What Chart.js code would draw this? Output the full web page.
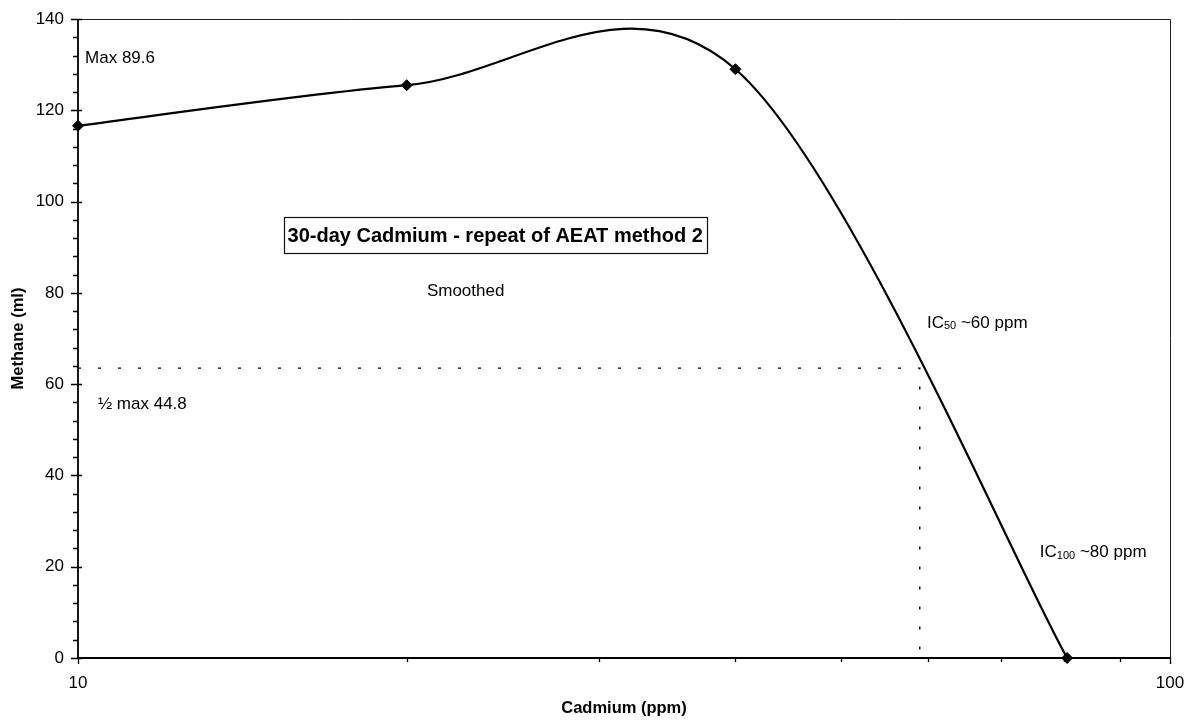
<!DOCTYPE html>
<html>
<head>
<meta charset="utf-8">
<script src="https://cdn.jsdelivr.net/npm/chart.js@4/dist/chart.umd.min.js"></script>
<style>
  html, body { margin: 0; padding: 0; background: #fff; }
  canvas { display: block; }
</style>
</head>
<body>
<canvas id="myChart" width="1194" height="720"></canvas>
<script>
// data
let cadmium = [10, 20, 40, 80.5];
let methane = [116.6, 125.5, 129.0, 0];

// half-max guide (dotted)
let guideX = [10, 59, 59];
let guideY = [63.5, 63.5, 0];

// axis ticks
let xTicks = [10, 100];
let xMinorTicks = [20, 30, 40, 50, 60, 70, 80, 90];
let yTicks = [0, 20, 40, 60, 80, 100, 120, 140];
let yMinorStep = 4;

let FONT = "'Liberation Sans', Arial, Helvetica, sans-serif";

// text notes placed in data space (x = ppm, y = ml)
let notes = [
    { text: [['Max 89.6', 17]], x: 10.15, y: 131.3 },
    { text: [['Smoothed', 17]], x: 20.87, y: 80.4 },
    { text: [['IC', 17], ['50', 11, 3], [' ~60 ppm', 17]], x: 59.9, y: 73.3 },
    { text: [['\u00bd max 44.8', 17]], x: 10.43, y: 55.5 },
    { text: [['IC', 17], ['100', 11, 3], [' ~80 ppm', 17]], x: 76.0, y: 23.1 },
];
let boxTitle = { text: '30-day Cadmium - repeat of AEAT method 2', x: 24.1, y: 92.6 };


// Excel style smoothing: Catmull-Rom with 1/6 tangents (in pixel space)
let excelSmooth = {
    id: 'excelSmooth',
    beforeDatasetDraw(chart, args) {
        if (args.index !== 0) return;
        let meta = args.meta;
        meta.dataset.updateControlPoints(chart.chartArea, 'x');
        let pts = meta.data;
        for (let i = 0; i < pts.length; i++) {
            let prev = pts[Math.max(i - 1, 0)];
            let next = pts[Math.min(i + 1, pts.length - 1)];
            let cur = pts[i];
            let dx = (next.x - prev.x) / 6;
            let dy = (next.y - prev.y) / 6;
            cur.cp1x = cur.x - dx; cur.cp1y = cur.y - dy;
            cur.cp2x = cur.x + dx; cur.cp2y = cur.y + dy;
        }
    }
};

// frame, tick marks and text notes
let decorations = {
    id: 'decorations',
    beforeDatasetsDraw(chart) {
        let ctx = chart.ctx;
        let a = chart.chartArea;
        let xs = chart.scales.x, ys = chart.scales.y;
        ctx.save();
        // frame
        ctx.strokeStyle = '#222';
        ctx.lineWidth = 1;
        ctx.beginPath();
        ctx.moveTo(a.left, a.top + 0.5); ctx.lineTo(a.right + 0.5, a.top + 0.5); ctx.lineTo(a.right + 0.5, a.bottom);
        ctx.stroke();
        ctx.strokeStyle = '#000';
        ctx.lineWidth = 1.8;
        ctx.beginPath();
        ctx.moveTo(a.left, a.top); ctx.lineTo(a.left, a.bottom); ctx.lineTo(a.right + 1, a.bottom);
        ctx.stroke();

        // y ticks
        ctx.lineWidth = 1.3;
        ctx.beginPath();
        for (let v = ys.min; v <= ys.max; v += yMinorStep) {
            let py = Math.round(ys.getPixelForValue(v)) + 0.5;
            if (yTicks.includes(v)) { ctx.moveTo(a.left - 7, py); ctx.lineTo(a.left + 4, py); }
            else { ctx.moveTo(a.left - 5, py); ctx.lineTo(a.left, py); }
        }
        // x ticks
        xTicks.forEach(v => {
            let px = Math.round(xs.getPixelForValue(v)) + 0.5;
            ctx.moveTo(px, a.bottom); ctx.lineTo(px, a.bottom + 6);
        });
        xMinorTicks.forEach(v => {
            let px = Math.round(xs.getPixelForValue(v)) + 0.5;
            ctx.moveTo(px, a.bottom); ctx.lineTo(px, a.bottom + 4);
        });
        ctx.stroke();
        ctx.restore();
    },
    afterDraw(chart) {
        let ctx = chart.ctx;
        let xs = chart.scales.x, ys = chart.scales.y;
        ctx.save();
        ctx.fillStyle = '#000';
        ctx.textBaseline = 'middle';
        ctx.textAlign = 'left';

        notes.forEach(n => {
            let px = xs.getPixelForValue(n.x);
            let py = ys.getPixelForValue(n.y);
            n.text.forEach(part => {
                ctx.font = part[1] + 'px ' + FONT;
                ctx.fillText(part[0], px, py + (part[2] || 0));
                px += ctx.measureText(part[0]).width;
            });
        });

        // boxed title
        ctx.font = 'bold 20px ' + FONT;
        ctx.textAlign = 'center';
        let cx = xs.getPixelForValue(boxTitle.x);
        let cy = ys.getPixelForValue(boxTitle.y);
        let w = ctx.measureText(boxTitle.text).width;
        ctx.fillText(boxTitle.text, cx, cy + 1);
        ctx.strokeStyle = '#111';
        ctx.lineWidth = 1.2;
        ctx.strokeRect(Math.round(cx - w / 2 - 4) + 0.5, Math.round(cy - 18) + 0.5, Math.round(w + 8), 36);
        ctx.restore();
    }
};


let ctx = document.getElementById('myChart').getContext('2d');

let myChart = new Chart(ctx, {
    type: 'line',
    data: {
        datasets: [{
            label: 'Methane',
            data: cadmium.map((c, i) => ({ x: c, y: methane[i] })),
            borderColor: '#000',
            backgroundColor: '#000',
            borderWidth: 2.2,
            tension: 0.4,
            capBezierPoints: false,
            clip: false,
            pointStyle: 'rectRot',
            pointRadius: 5.5,
            pointBorderWidth: 1,
            pointBackgroundColor: '#000',
            pointBorderColor: '#000',
            fill: false,
        }, {
            label: 'half max',
            data: guideX.map((g, i) => ({ x: g, y: guideY[i] })),
            borderColor: '#000',
            borderWidth: 1.4,
            borderDash: [3, 17],
            pointRadius: 0,
            tension: 0,
            fill: false,
        }]
    },
    options: {
        responsive: false,
        animation: false,
        devicePixelRatio: 1,
        layout: {
            autoPadding: false,
            padding: { left: 0, top: 19, right: 24, bottom: 0 }
        },
        plugins: {
            legend: { display: false },
            tooltip: { enabled: false },
        },
        scales: {
            x: {
                type: 'logarithmic',
                min: 10,
                max: 100,
                afterBuildTicks: scale => { scale.ticks = xTicks.map(v => ({ value: v })); },
                afterFit: scale => {
                    scale.height = 62;
                    scale.paddingLeft = 0;
                    scale.paddingRight = 0;
                },
                grid: { display: false, drawTicks: false },
                border: { display: false },
                ticks: {
                    autoSkip: false,
                    maxRotation: 0,
                    padding: 15,
                    color: '#000',
                    font: { family: FONT, size: 17 },
                    callback: v => String(v),
                },
                title: {
                    display: true,
                    text: 'Cadmium (ppm)',
                    color: '#000',
                    font: { family: FONT, size: 16.5, weight: 'bold' },
                    padding: { top: 0, bottom: 2 },
                },
            },
            y: {
                min: 0,
                max: 140,
                afterBuildTicks: scale => { scale.ticks = yTicks.map(v => ({ value: v })); },
                afterFit: scale => {
                    scale.width = 78;
                    scale.paddingTop = 0;
                    scale.paddingBottom = 0;
                },
                grid: { display: false, drawTicks: false },
                border: { display: false },
                ticks: {
                    autoSkip: false,
                    padding: 14,
                    color: '#000',
                    font: { family: FONT, size: 17 },
                },
                title: {
                    display: true,
                    text: 'Methane (ml)',
                    color: '#000',
                    font: { family: FONT, size: 16.5, weight: 'bold' },
                    padding: { top: 9, bottom: 0 },
                },
            }
        }
    },
    plugins: [excelSmooth, decorations]
});
</script>
</body>
</html>
